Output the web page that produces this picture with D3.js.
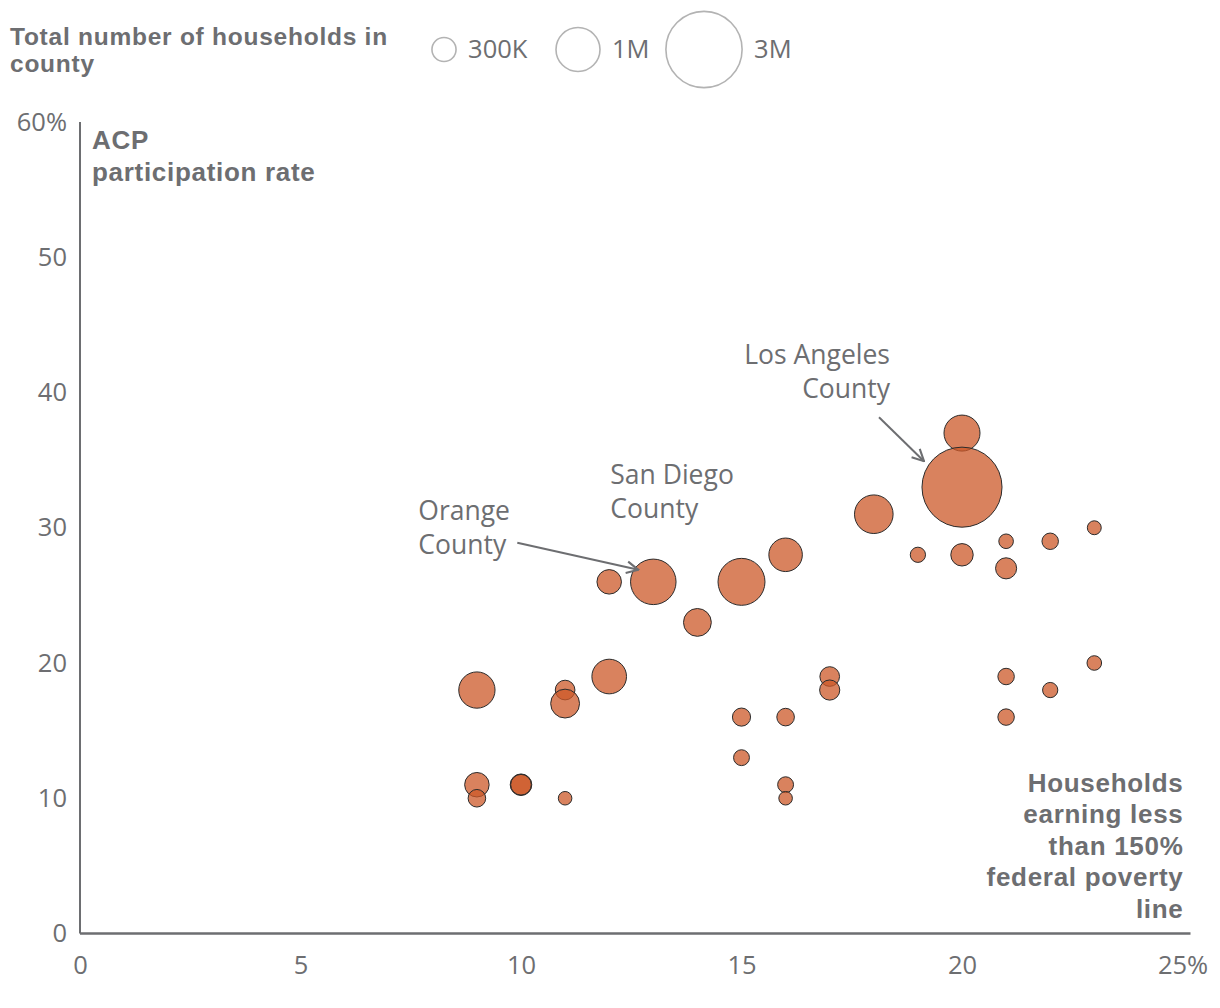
<!DOCTYPE html>
<html>
<head>
<meta charset="utf-8">
<script src="https://cdn.jsdelivr.net/npm/d3@7/dist/d3.min.js"></script>
<style>
  html, body { margin: 0; padding: 0; background: #ffffff; }
  svg { display: block; }
</style>
</head>
<body>
<svg id="chart" width="1220" height="1008"></svg>
<script>
// ---- Data ----
// Share of households earning less than 150% of the federal poverty line (%)
const povertyShare = [20, 20, 18, 19, 20, 21, 21, 22, 23, 21, 22, 23, 21, 16, 15, 13, 12, 14, 12, 9, 11, 11, 9, 9, 10, 10, 11, 17, 17, 15, 16, 15, 16, 16];
// ACP participation rate (%)
const acpRate      = [37, 33, 31, 28, 28, 29, 27, 29, 30, 19, 18, 20, 16, 28, 26, 26, 26, 23, 19, 18, 18, 17, 11, 10, 11, 11, 10, 19, 18, 16, 16, 13, 11, 10];
// Total number of households in county (millions)
const households   = [0.67, 3.31, 0.77, 0.12, 0.26, 0.11, 0.23, 0.14, 0.10, 0.14, 0.12, 0.11, 0.14, 0.58, 1.14, 1.07, 0.31, 0.40, 0.62, 0.68, 0.20, 0.43, 0.31, 0.16, 0.24, 0.22, 0.095, 0.20, 0.21, 0.17, 0.16, 0.13, 0.13, 0.095];

const xTicks = [0, 5, 10, 15, 20, 25];
const yTicks = [0, 10, 20, 30, 40, 50, 60];
const legendSizes  = [0.3, 1, 3];
const legendLabels = ["300K", "1M", "3M"];

const legendTitle = ["Total number of households in", "county"];
const yTitle = ["ACP", "participation rate"];
const xTitle = ["Households", "earning less", "than 150%", "federal poverty", "line"];

// annotations: point index + label lines
const annoLA     = { idx: 1,  lines: ["Los Angeles", "County"] };
const annoOrange = { idx: 15, lines: ["Orange", "County"] };
const annoSD     = { idx: 15, lines: ["San Diego", "County"] };

// ---- Layout ----
const grey = "#6d6e71";
const fillColor = "#cc5828";
const sansReg = "'Open Sans', 'Noto Sans', sans-serif";
const sansBold = "'Liberation Sans', Arial, sans-serif";

const svg = d3.select("#chart");
const x = d3.scaleLinear().domain([0, 25]).range([80, 1182.5]);
const y = d3.scaleLinear().domain([0, 60]).range([933.5, 122]);
const r = d3.scaleSqrt().domain([0, 1]).range([0, 22]);

const data = povertyShare.map((v, i) => ({ x: v, y: acpRate[i], h: households[i] }));

// defs: arrow marker
svg.append("defs").append("marker")
  .attr("id", "arrow")
  .attr("viewBox", "0 0 12 12")
  .attr("refX", 11).attr("refY", 6)
  .attr("markerWidth", 14).attr("markerHeight", 14)
  .attr("markerUnits", "userSpaceOnUse")
  .attr("orient", "auto")
  .append("path")
  .attr("d", "M1,1 L11,6 L1,11")
  .attr("fill", "none")
  .attr("stroke", grey)
  .attr("stroke-width", 1.8);

// ---- Axes ----
const xAxis = svg.append("g").attr("transform", `translate(0,${y(0)})`)
  .call(d3.axisBottom(x).tickValues(xTicks).tickSize(0).tickPadding(22)
    .tickFormat(d => d === 25 ? d + "%" : d));
xAxis.select(".domain").remove();
xAxis.selectAll("text").attr("font-family", sansReg).attr("font-size", 25.5).attr("fill", grey);

const yAxis = svg.append("g").attr("transform", `translate(${x(0)},0)`)
  .call(d3.axisLeft(y).tickValues(yTicks).tickSize(0).tickPadding(13)
    .tickFormat(d => d === 60 ? d + "%" : d));
yAxis.select(".domain").remove();
yAxis.selectAll("text").attr("font-family", sansReg).attr("font-size", 25.5).attr("fill", grey);

// axis lines
svg.append("line")
  .attr("x1", x(0)).attr("x2", x(0))
  .attr("y1", y(60)).attr("y2", y(0))
  .attr("stroke", grey).attr("stroke-width", 2);
svg.append("line")
  .attr("x1", x(0)).attr("x2", x(25) + 8)
  .attr("y1", y(0)).attr("y2", y(0))
  .attr("stroke", grey).attr("stroke-width", 2.5);

// axis titles
const yt = svg.append("text")
  .attr("font-family", sansBold).attr("font-weight", "bold")
  .attr("font-size", 26).attr("letter-spacing", 0.7).attr("fill", grey);
yTitle.forEach((t, i) => yt.append("tspan").attr("x", x(0) + 12).attr("y", y(60) + 27 + i * 32).text(t));

const xt = svg.append("text")
  .attr("font-family", sansBold).attr("font-weight", "bold")
  .attr("font-size", 26).attr("letter-spacing", 0.7).attr("fill", grey)
  .attr("text-anchor", "end");
xTitle.forEach((t, i) => xt.append("tspan").attr("x", x(25) + 1).attr("y", y(0) - 142 + i * 31.5).text(t));

// ---- Bubbles ----
svg.append("g").selectAll("circle")
  .data(data)
  .join("circle")
  .attr("cx", d => x(d.x))
  .attr("cy", d => y(d.y))
  .attr("r", d => r(d.h))
  .attr("fill", fillColor)
  .attr("fill-opacity", 0.75)
  .attr("stroke", "#2b2b2b")
  .attr("stroke-width", 1);

// ---- Annotations ----
function annoText(lines, ax, ay, anchor) {
  const t = svg.append("text")
    .attr("font-family", sansReg).attr("font-size", 26.5)
    .attr("fill", grey).attr("text-anchor", anchor);
  lines.forEach((l, i) => t.append("tspan").attr("x", ax).attr("y", ay + i * 34).text(l));
}
// Los Angeles
{
  const d = data[annoLA.idx];
  const cx = x(d.x), cy = y(d.y);
  annoText(annoLA.lines, cx - 72, cy - 123, "end");
  svg.append("line")
    .attr("x1", cx - 83).attr("y1", cy - 70)
    .attr("x2", cx - 38).attr("y2", cy - 26)
    .attr("stroke", grey).attr("stroke-width", 2)
    .attr("marker-end", "url(#arrow)");
}
// Orange County
{
  const d = data[annoOrange.idx];
  const cx = x(d.x), cy = y(d.y);
  annoText(annoOrange.lines, cx - 235, cy - 62, "start");
  svg.append("line")
    .attr("x1", cx - 136).attr("y1", cy - 39)
    .attr("x2", cx - 15).attr("y2", cy - 12)
    .attr("stroke", grey).attr("stroke-width", 2)
    .attr("marker-end", "url(#arrow)");
}
// San Diego County
{
  const d = data[annoSD.idx];
  const cx = x(d.x), cy = y(d.y);
  annoText(annoSD.lines, cx - 43, cy - 98, "start");
}

// ---- Size legend ----
const legT = svg.append("text")
  .attr("font-family", sansBold).attr("font-weight", "bold")
  .attr("font-size", 24.5).attr("letter-spacing", 0.75).attr("fill", grey);
legendTitle.forEach((t, i) => legT.append("tspan").attr("x", 10).attr("y", 45 + i * 27).text(t));

const legCenters = [444, 578, 704];
const leg = svg.append("g");
legendSizes.forEach((s, i) => {
  leg.append("circle")
    .attr("cx", legCenters[i]).attr("cy", 49.5)
    .attr("r", r(s))
    .attr("fill", "none").attr("stroke", "#b3b3b3").attr("stroke-width", 1.6);
  leg.append("text")
    .attr("x", legCenters[i] + r(s) + 12).attr("y", 49.5)
    .attr("dy", "0.35em")
    .attr("font-family", sansReg).attr("font-size", 25.5).attr("fill", grey)
    .text(legendLabels[i]);
});
</script>
</body>
</html>
